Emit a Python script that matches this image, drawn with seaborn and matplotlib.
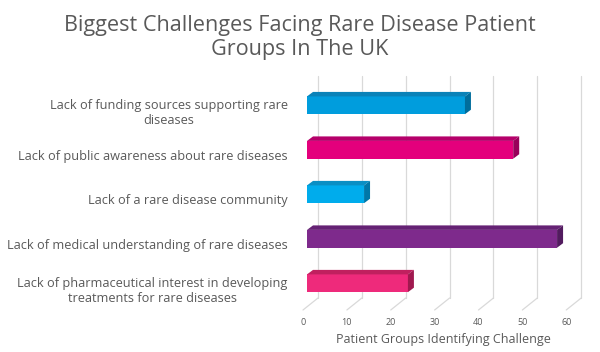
import matplotlib
matplotlib.use("Agg")
import matplotlib.pyplot as plt
import matplotlib.transforms as mtransforms
from matplotlib.patches import Polygon
from matplotlib.lines import Line2D
import seaborn as sns
import pandas as pd

# data
challenges = [
    "Lack of funding sources supporting rare\ndiseases",
    "Lack of public awareness about rare diseases",
    "Lack of a rare disease community",
    "Lack of medical understanding of rare diseases",
    "Lack of pharmaceutical interest in developing\ntreatments for rare diseases",
]
groups = [36, 47, 13, 57, 23]
front_colors = ["#009ddd", "#e4007c", "#00acec", "#7e2a8c", "#ee2a7b"]
top_colors = ["#0a82b8", "#b5006a", "#0a8fc4", "#652274", "#c0205f"]
side_colors = ["#006d9c", "#98005a", "#0077a8", "#521b5f", "#a0194f"]
xticks = [0, 10, 20, 30, 40, 50, 60]

df = pd.DataFrame({"challenge": challenges, "groups": groups})

sns.set_style("white")
plt.rcParams["font.family"] = ["Open Sans", "DejaVu Sans"]
grey = "#595959"

fig = plt.figure(figsize=(6, 3.52), dpi=100)
ax = fig.add_axes([0.5117, 0.132, 0.4533, 0.632])

sns.barplot(data=df, x="groups", y="challenge", hue="challenge",
            palette=front_colors, saturation=1, width=0.4, legend=False, ax=ax,
            edgecolor="none", zorder=3)
ax.set_xlim(0, 62)
sns.despine(ax=ax, left=True, bottom=True)

# back-wall grid lines with a slanted floor part
px = 0.72  # points per pixel at 100 dpi
back = mtransforms.offset_copy(ax.get_xaxis_transform(), fig=fig, x=11 * px, y=0, units="points")
front = mtransforms.offset_copy(ax.get_xaxis_transform(), fig=fig, x=-4 * px, y=0, units="points")
for t in xticks:
    ax.add_line(Line2D([t, t], [0.034, 1.03], transform=back, color="#d9d9d9", lw=0.9, zorder=0, clip_on=False))
    p0 = back.transform((t, 0.034))
    p1 = front.transform((t, -0.02))
    ax.add_line(Line2D([p0[0], p1[0]], [p0[1], p1[1]], transform=mtransforms.IdentityTransform(),
                       color="#d9d9d9", lw=0.9, zorder=0, clip_on=False))

# 3D top and side faces computed from the seaborn bars
dx, dy = 6, 4.5
fig.canvas.draw()
for patch, ctop, cside in zip(ax.patches, top_colors, side_colors):
    x0, y0 = patch.get_x(), patch.get_y()
    x1, y1 = x0 + patch.get_width(), y0 + patch.get_height()
    (ax0, ay0), (ax1, ay1) = ax.transData.transform([(x0, y0), (x1, y1)])
    ytop, ybot = max(ay0, ay1), min(ay0, ay1)
    top = Polygon([(ax0, ytop), (ax0 + dx, ytop + dy), (ax1 + dx, ytop + dy), (ax1, ytop)],
                  closed=True, facecolor=ctop, edgecolor="none",
                  transform=mtransforms.IdentityTransform(), zorder=3, clip_on=False)
    side = Polygon([(ax1, ytop), (ax1 + dx, ytop + dy), (ax1 + dx, ybot + dy), (ax1, ybot)],
                   closed=True, facecolor=cside, edgecolor="none",
                   transform=mtransforms.IdentityTransform(), zorder=3, clip_on=False)
    ax.add_patch(top)
    ax.add_patch(side)

ax.set_xticks(xticks)
ax.tick_params(axis="x", length=0, pad=9, labelsize=6.5, labelcolor=grey)
ax.tick_params(axis="y", length=0, pad=14, labelsize=9.2, labelcolor=grey)
for lab in ax.get_xticklabels():
    lab.set_transform(lab.get_transform() + mtransforms.ScaledTranslation(-4 / 100, 0, fig.dpi_scale_trans))
for lab in ax.get_yticklabels():
    lab.set_horizontalalignment("right")
    lab.set_multialignment("center")
    lab.set_transform(lab.get_transform() + mtransforms.ScaledTranslation(0, -5 / 100, fig.dpi_scale_trans))

ax.set_xlabel("Patient Groups Identifying Challenge", fontsize=9, color=grey, labelpad=4)
ax.set_ylabel("")
fig.suptitle("Biggest Challenges Facing Rare Disease Patient\nGroups In The UK",
             x=0.5, y=0.958, fontsize=15.6, color=grey, linespacing=1.2)

fig.savefig("out.png", dpi=100)
